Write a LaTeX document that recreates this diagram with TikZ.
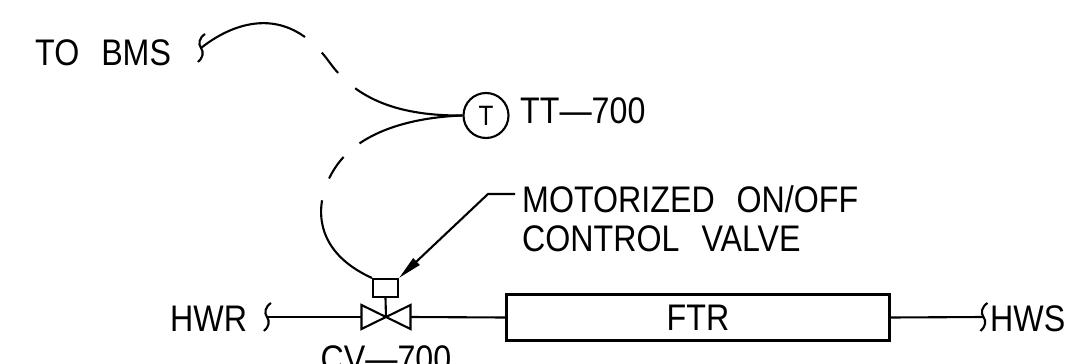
\documentclass[tikz,border=0pt]{standalone}
\usepackage{fontspec}
\setmainfont{Liberation Sans}[FakeStretch=0.87]
\usetikzlibrary{arrows.meta}
\begin{document}
\begin{tikzpicture}[x=1pt,y=-1pt,
  ln/.style={line width=2.1pt},
  lbl/.style={inner sep=0pt, font=\fontsize{37}{39}\selectfont},
  sigtop/.style={ln, dash pattern=on 113pt off 23pt on 26pt off 23pt on 600pt},
  sigbot/.style={ln, dash pattern=on 108pt off 21pt on 26pt off 23pt on 600pt},
  brk/.pic={\draw[line width=2.1pt] (4,-14) .. controls (-2,-10) and (-3,-4) .. (0,0) .. controls (3,4) and (2,10) .. (-3,14);}
]
\useasboundingbox (0,0) rectangle (1072,364);

% labels
\node[lbl, anchor=base west] (bms) at (35,65) {TO\ \hspace{13pt}BMS};
\node[lbl, anchor=base west] (ttl) at (520,123) {TT—700};
\node[lbl, anchor=north west, align=left] (note) at (522,185) {MOTORIZED\ \hspace{13pt}ON/OFF\\CONTROL\ \hspace{13pt}VALVE};
\node[lbl, anchor=base west] (hwr) at (170,331) {HWR};
\node[lbl, anchor=base west] (hws) at (990,331) {HWS};
\node[lbl, anchor=base] (cvl) at (386,371) {CV—700};

% break symbols
\coordinate (bmsbrk) at (201,48);
\coordinate (hwrbrk) at (267,317);
\coordinate (hwsbrk) at (983.5,317);
\pic at (bmsbrk) {brk};
\pic at (hwrbrk) {brk};
\pic at (hwsbrk) {brk};

% temperature transmitter
\node[circle, draw, ln, minimum size=45pt, inner sep=0pt, font=\fontsize{28}{28}\selectfont] (tt) at (486,115.5) {T};

% actuator and valve
\node[draw, ln, minimum width=25pt, minimum height=18pt, inner sep=0pt] (act) at (385.5,288) {};
\coordinate (v) at (386,317);
\coordinate (vl) at (361.5,317);
\coordinate (vr) at (410.5,317);
\draw[ln, line join=miter] (v) ++(-24.5,-12) -- ++(0,24) -- ++(49,-24) -- ++(0,24) -- cycle;
\draw[ln] (act.south) -- (v);

% FTR
\node[draw, line width=3pt, minimum width=383pt, minimum height=46pt, lbl] (ftr) at (698,317.5) {FTR};

% piping
\draw[ln] (hwrbrk) -- (vl);
\draw[ln] (vr) -- (ftr.west);
\draw[ln] (ftr.east) -- (hwsbrk);

% leader with arrow
\coordinate (ldr) at (515,194);
\draw[ln, -{Triangle[length=24pt,width=9pt]}] (ldr) -- (488,194) -- (act.north east);

% signal lines
\draw[sigtop] (bmsbrk) .. controls (230,25) and (285,0) .. (330,63) .. controls (357,100) and (400,116) .. (tt.west);
\draw[sigbot] (tt.west) .. controls (420,117) and (361,128) .. (335,168) .. controls (314,200) and (310,250) .. (act.north west);
\end{tikzpicture}
\end{document}
